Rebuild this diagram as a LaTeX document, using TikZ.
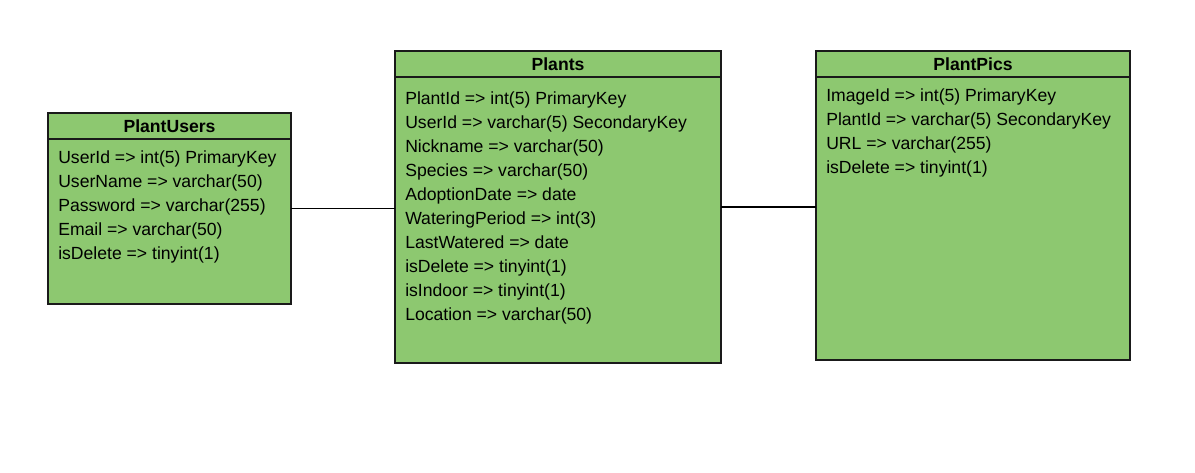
\documentclass[tikz,border=0pt]{standalone}
\usepackage{fontspec}
\setmainfont{Liberation Sans}
\usetikzlibrary{positioning,calc}
\definecolor{tableGreen}{HTML}{8DC870}
\definecolor{tableLine}{HTML}{1A1A1A}

\begin{document}
\begin{tikzpicture}[x=0.75pt,y=-0.75pt,
    head/.style={draw=tableLine,line width=1pt,fill=tableGreen,anchor=north west,outer sep=0pt,
      minimum height=19.5pt,inner sep=0pt,font=\fontsize{13.2}{15}\selectfont\bfseries},
    body/.style={draw=tableLine,line width=1pt,fill=tableGreen,inner sep=0pt,outer sep=0pt},
    attrs/.style={anchor=north west,align=left,inner xsep=7.5pt,inner ysep=8.5pt,
      font=\fontsize{13.2}{18}\selectfont},
    link/.style={draw=black,line width=0.8pt}]

  \useasboundingbox (0,0) rectangle (1195,472);

  % Tables

  \node[head, minimum width=182.25pt] (usersHead) at (48,113) {PlantUsers} ; %
  \node[body, below=0pt of usersHead, minimum width=182.25pt, minimum height=123.75pt] (usersBody) {} ; %
  \node[attrs] (usersAttrs) at (usersBody.north west)
    {UserId => int(5) PrimaryKey\\UserName => varchar(50)\\Password => varchar(255)\\
     Email => varchar(50)\\isDelete => tinyint(1)} ; %

  \node[head, minimum width=244.5pt] (plantsHead) at (395,51) {Plants} ; %
  \node[body, below=0pt of plantsHead, minimum width=244.5pt, minimum height=214.5pt] (plantsBody) {} ; %
  \node[attrs, inner ysep=10.8pt] (plantsAttrs) at (plantsBody.north west)
    {PlantId => int(5) PrimaryKey\\UserId => varchar(5) SecondaryKey\\Nickname => varchar(50)\\
     Species => varchar(50)\\AdoptionDate => date\\WateringPeriod => int(3)\\
     LastWatered => date\\isDelete => tinyint(1)\\isIndoor => tinyint(1)\\Location => varchar(50)} ; %

  \node[head, minimum width=235.5pt] (picsHead) at (816,51) {PlantPics} ; %
  \node[body, below=0pt of picsHead, minimum width=235.5pt, minimum height=212.25pt] (picsBody) {} ; %
  \node[attrs, inner ysep=8.8pt] (picsAttrs) at (picsBody.north west)
    {ImageId => int(5) PrimaryKey\\PlantId => varchar(5) SecondaryKey\\URL => varchar(255)\\
     isDelete => tinyint(1)} ; %

  % Links

  \coordinate (usersMid) at ($(usersHead.north east)!0.5!(usersBody.south east)$) ; %
  \coordinate (plantsMid) at ($(plantsHead.north east)!0.5!(plantsBody.south east)$) ; %

  \draw[link] (usersMid) -- (usersMid -| plantsBody.west) ;
  \draw[link] (plantsMid) -- (plantsMid -| picsBody.west) ;

\end{tikzpicture}
\end{document}
